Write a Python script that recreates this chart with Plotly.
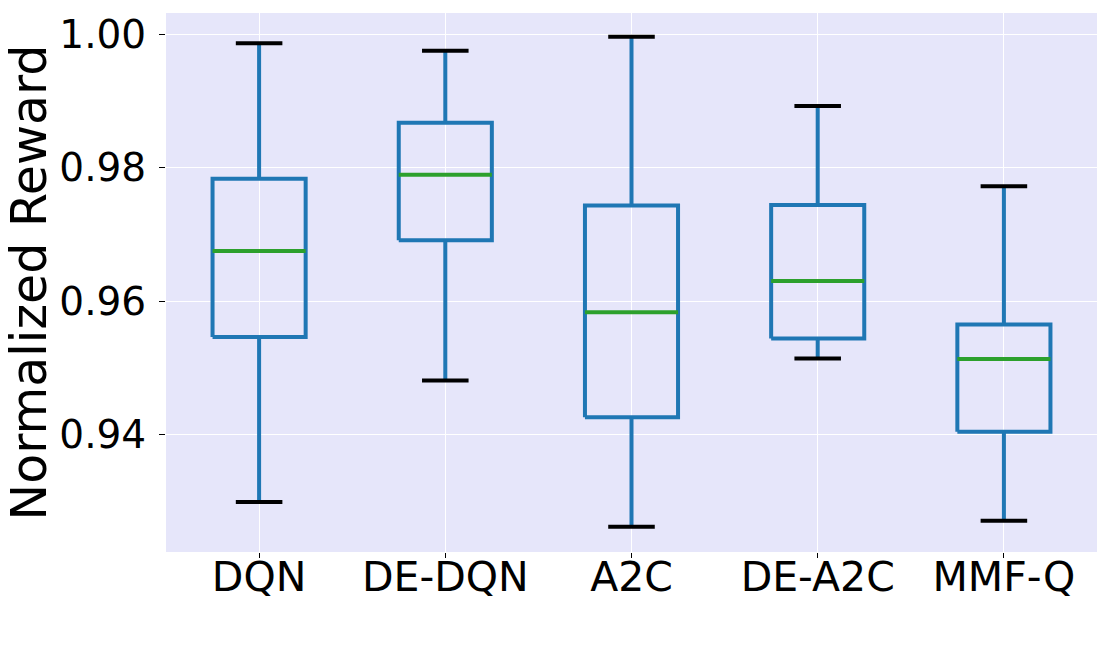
import plotly.graph_objects as go

# box plot stats
methods = ["DQN", "DE-DQN", "A2C", "DE-A2C", "MMF-Q"]
lower = [0.9299, 0.9481, 0.9262, 0.9514, 0.9271]
q1 = [0.9546, 0.9691, 0.9426, 0.9544, 0.9404]
median = [0.9675, 0.9789, 0.9583, 0.9630, 0.9513]
q3 = [0.9783, 0.9867, 0.9743, 0.9744, 0.9565]
upper = [0.9986, 0.9975, 0.9996, 0.9892, 0.9772]

blue = "#1f77b4"
green = "#2ca02c"
half = 0.25   # half box width
cap = 0.125   # half cap width

bx, by = [], []
mx, my = [], []
cx, cy = [], []
for i in range(len(methods)):
    p = i + 1
    # box outline
    bx += [p - half, p + half, p + half, p - half, p - half, None]
    by += [q1[i], q1[i], q3[i], q3[i], q1[i], None]
    # whiskers
    bx += [p, p, None, p, p, None]
    by += [q3[i], upper[i], None, q1[i], lower[i], None]
    # median
    mx += [p - half, p + half, None]
    my += [median[i], median[i], None]
    # caps
    cx += [p - cap, p + cap, None, p - cap, p + cap, None]
    cy += [upper[i], upper[i], None, lower[i], lower[i], None]

fig = go.Figure()
fig.add_trace(go.Scatter(x=bx, y=by, mode="lines", line=dict(color=blue, width=4),
                         hoverinfo="skip", showlegend=False))
fig.add_trace(go.Scatter(x=mx, y=my, mode="lines", line=dict(color=green, width=4),
                         hoverinfo="skip", showlegend=False))
fig.add_trace(go.Scatter(x=cx, y=cy, mode="lines", line=dict(color="black", width=4),
                         hoverinfo="skip", showlegend=False))

fig.update_layout(
    width=1109,
    height=667,
    margin=dict(l=166, r=12, t=13, b=115),
    paper_bgcolor="white",
    plot_bgcolor="lavender",
    font=dict(family="DejaVu Sans", color="black", size=41),
    xaxis=dict(
        range=[0.5, 5.5],
        tickvals=list(range(1, len(methods) + 1)),
        ticktext=methods,
        showgrid=True, gridcolor="white", gridwidth=1,
        zeroline=False,
        ticks="outside", ticklen=5, tickcolor="black",
        tickfont=dict(size=41),
        ticklabelstandoff=-16,
        automargin=False,
    ),
    yaxis=dict(
        range=[0.9224, 1.00315],
        tickvals=[0.94, 0.96, 0.98, 1.00],
        tickformat=".2f",
        showgrid=True, gridcolor="white", gridwidth=1,
        zeroline=False,
        ticks="outside", ticklen=6, tickcolor="black",
        tickfont=dict(size=39),
        ticklabelstandoff=5,
        automargin=False,
    ),
    annotations=[dict(
        text="Normalized Reward", textangle=-90,
        xref="paper", yref="paper", x=0, y=0.5,
        xanchor="center", yanchor="middle", xshift=-137,
        showarrow=False, font=dict(size=49),
    )],
)

# drop the default 8px body margin so the figure fills the window
fig.write_html("out.html", config={"displayModeBar": False},
               post_script="document.body.style.margin='0';")
